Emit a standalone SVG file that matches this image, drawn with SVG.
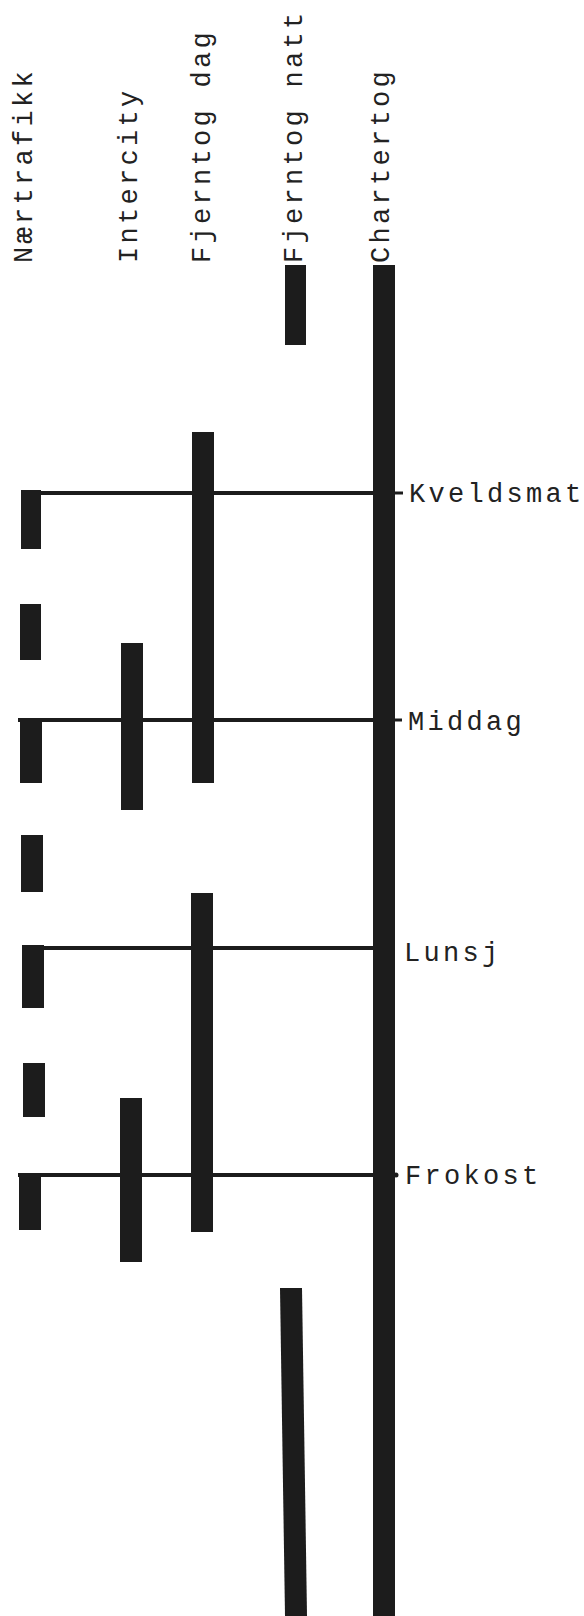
<svg xmlns="http://www.w3.org/2000/svg" width="584" height="1616" viewBox="0 0 584 1616">
<style>
.bar{fill:#1c1c1c}
.ln{stroke:#1c1c1c;stroke-width:4;fill:none}
.tk{stroke:#1c1c1c;stroke-width:3;fill:none}
.lbl{font-family:"Liberation Mono","Courier New",monospace;font-size:27px;letter-spacing:3.3px;fill:#222}
</style>
<rect width="584" height="1616" fill="#fff"/>
<g id="connectors">
<line class="ln" x1="21" y1="493" x2="375" y2="493"/>
<line class="tk" x1="390" y1="493" x2="403" y2="493"/>
<line class="ln" x1="18" y1="720" x2="375" y2="720"/>
<line class="tk" x1="390" y1="720" x2="402" y2="720"/>
<line class="ln" x1="22" y1="948" x2="375" y2="948"/>
<line class="ln" x1="18" y1="1175" x2="375" y2="1175"/>
<circle cx="396" cy="1175" r="2.5" fill="#1c1c1c"/>
</g>
<g id="naertrafikk">
<text class="lbl" transform="translate(32,263) rotate(-90)">Nærtrafikk</text>
<rect class="bar" x="21" y="490" width="20" height="59"/>
<rect class="bar" x="20" y="604" width="21" height="56"/>
<rect class="bar" x="20" y="719" width="22" height="64"/>
<rect class="bar" x="21" y="835" width="22" height="57"/>
<rect class="bar" x="22" y="945" width="22" height="63"/>
<rect class="bar" x="23" y="1063" width="22" height="54"/>
<rect class="bar" x="19" y="1173" width="22" height="57"/>
</g>
<g id="intercity">
<text class="lbl" transform="translate(137,263) rotate(-90)">Intercity</text>
<rect class="bar" x="121" y="643" width="22" height="167"/>
<rect class="bar" x="120" y="1098" width="22" height="164"/>
</g>
<g id="fjerntog-dag">
<text class="lbl" transform="translate(210,263) rotate(-90)">Fjerntog dag</text>
<rect class="bar" x="192" y="432" width="22" height="351"/>
<rect class="bar" x="191" y="893" width="22" height="339"/>
</g>
<g id="fjerntog-natt">
<text class="lbl" transform="translate(302,263) rotate(-90)">Fjerntog natt</text>
<rect class="bar" x="285" y="265" width="21" height="80"/>
<polygon class="bar" points="280,1288 302,1288 307,1616 285,1616"/>
</g>
<g id="chartertog">
<text class="lbl" transform="translate(389,263) rotate(-90)">Chartertog</text>
<rect class="bar" x="373" y="265" width="22" height="1351"/>
</g>
<g id="maltider">
<text class="lbl" x="409" y="502">Kveldsmat</text>
<text class="lbl" x="408" y="730">Middag</text>
<text class="lbl" x="404" y="961">Lunsj</text>
<text class="lbl" x="405" y="1184">Frokost</text>
</g>
</svg>
